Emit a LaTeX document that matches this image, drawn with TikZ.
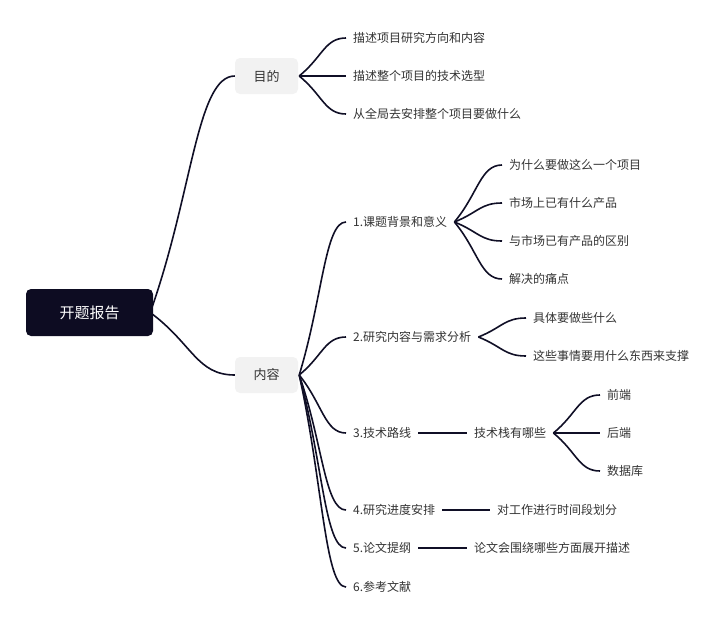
\documentclass[tikz,border=0pt]{standalone}
\usepackage{fontspec}
\setmainfont{Noto Sans CJK SC}
\usetikzlibrary{calc,backgrounds}
\definecolor{rootfill}{RGB}{13,12,34}
\definecolor{boxfill}{RGB}{242,242,242}
\definecolor{linkcol}{RGB}{16,15,38}
\definecolor{txtcol}{RGB}{51,51,51}
\tikzset{
  rootbox/.style={fill=rootfill, rounded corners=5pt, minimum width=127pt, minimum height=47pt, text=white, font=\fontsize{15}{18}\selectfont, inner sep=0pt},
  topicbox/.style={fill=boxfill, rounded corners=5pt, minimum width=63pt, minimum height=36pt, text=txtcol, font=\fontsize{13}{16}\selectfont, inner sep=0pt},
  leaf/.style={anchor=west, inner xsep=7pt, inner ysep=3pt, text=txtcol, font=\fontsize{12}{14}\selectfont},
  link/.style={draw=linkcol, line width=1.6pt},
  mm/.style={to path={let \p1=(\tikztostart), \p2=(\tikztotarget) in .. controls (\x1/2+\x2/2,\y1/2+\y2/2) and (0.55*\x2+0.45*\x1,\y2) .. (\tikztotarget)}}
}
\begin{document}
\begin{tikzpicture}[x=1pt,y=-1pt]
\useasboundingbox (0,0) rectangle (720,624);
% root and topics
\node[rootbox] (root) at (89.5,312.5) {开题报告};
\node[topicbox] (mudi) at (266.5,76) {目的};
\node[topicbox] (neirong) at (266.5,375) {内容};
% 目的 children
\node[leaf] (m1) at (346,38) {描述项目研究方向和内容};
\node[leaf] (m2) at (346,76) {描述整个项目的技术选型};
\node[leaf] (m3) at (346,114) {从全局去安排整个项目要做什么};
% 内容 children
\node[leaf] (c1) at (346,222) {1.课题背景和意义};
\node[leaf] (c2) at (346,337) {2.研究内容与需求分析};
\node[leaf] (c3) at (346,433) {3.技术路线};
\node[leaf] (c4) at (346,510) {4.研究进度安排};
\node[leaf] (c5) at (346,548) {5.论文提纲};
\node[leaf] (c6) at (346,587) {6.参考文献};
% third level
\node[leaf] (c1a) at (502,165) {为什么要做这么一个项目};
\node[leaf] (c1b) at (502,203) {市场上已有什么产品};
\node[leaf] (c1c) at (502,241) {与市场已有产品的区别};
\node[leaf] (c1d) at (502,279) {解决的痛点};
\node[leaf] (c2a) at (526,318) {具体要做些什么};
\node[leaf] (c2b) at (526,356) {这些事情要用什么东西来支撑};
\node[leaf] (t) at (467,433) {技术栈有哪些};
\node[leaf] (ta) at (600,395) {前端};
\node[leaf] (tb) at (600,433) {后端};
\node[leaf] (tc) at (600,471) {数据库};
\node[leaf] (c4a) at (490,510) {对工作进行时间段划分};
\node[leaf] (c5a) at (467,548) {论文会围绕哪些方面展开描述};
% connectors
\begin{pgfonlayer}{background}
\draw[link] ([xshift=-3pt]root.east) to[mm] (mudi.west);
\draw[link] ([xshift=-3pt]root.east) to[mm] (neirong.west);
\foreach \nm in {m1,m2,m3} \draw[link] ([xshift=1pt]mudi.east) to[mm] (\nm.west);
\foreach \nm in {c1,c2,c3,c4,c5,c6} \draw[link] ([xshift=1pt]neirong.east) to[mm] (\nm.west);
\foreach \nm in {c1a,c1b,c1c,c1d} \draw[link] (c1.east) to[mm] (\nm.west);
\foreach \nm in {c2a,c2b} \draw[link] (c2.east) to[mm] (\nm.west);
\foreach \nm in {ta,tb,tc} \draw[link] (t.east) to[mm] (\nm.west);
\draw[link] (c3.east) -- (t.west);
\draw[link] (c4.east) -- (c4a.west);
\draw[link] (c5.east) -- (c5a.west);
\end{pgfonlayer}
\end{tikzpicture}
\end{document}
